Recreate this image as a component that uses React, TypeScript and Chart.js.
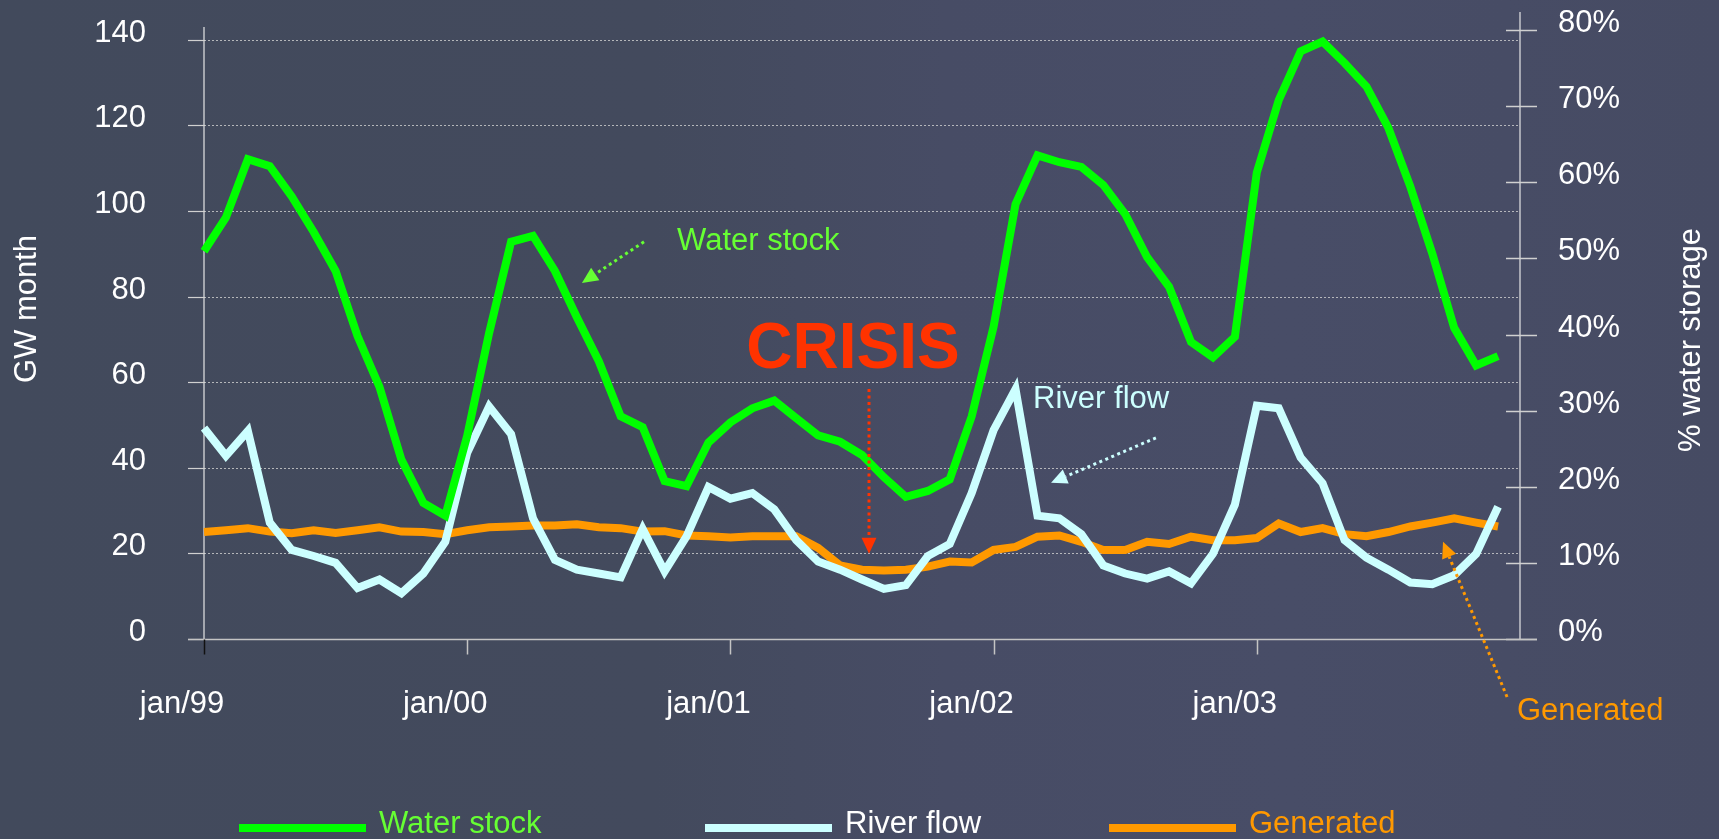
import React, { useEffect, useRef } from 'react';
import { Chart, registerables } from 'chart.js';

Chart.register(...registerables);

const FONT = '"Liberation Sans", Arial, Helvetica, sans-serif';

const YEARS = ['99', '00', '01', '02', '03', '04'];
const MONTH_NAMES = ['jan', 'feb', 'mar', 'apr', 'may', 'jun', 'jul', 'aug', 'sep', 'oct', 'nov', 'dec'];
// 61 monthly category slots: jan/99 ... jan/04 (last slot is the axis end)
const CATEGORIES: string[] = [];
YEARS.forEach((yy, yi) => {
  MONTH_NAMES.forEach((m, mi) => {
    if (yi < YEARS.length - 1 || mi === 0) CATEGORIES.push(`${m}/${yy}`);
  });
});
const X_TICK_LABELS = ['jan/99', 'jan/00', 'jan/01', 'jan/02', 'jan/03'];

const LEFT_TICKS = [0, 20, 40, 60, 80, 100, 120, 140];
const RIGHT_TICKS = [0, 10, 20, 30, 40, 50, 60, 70, 80];

const WATER_STOCK = [
  90.6, 98.5, 112.1, 110.5, 103.4, 95.1, 86.0, 70.8, 58.9, 41.9, 31.8, 28.8,
  47.5, 71.5, 92.8, 94.2, 86.0, 75.2, 64.9, 52.0, 49.5, 36.9, 35.7, 45.9,
  50.6, 53.9, 55.7, 51.6, 47.6, 46.1, 43.0, 37.8, 33.2, 34.6, 37.3, 52.0,
  73.0, 101.6, 113.0, 111.4, 110.3, 106.1, 99.3, 89.2, 82.3, 69.4, 65.8, 70.6,
  109.0, 125.9, 137.3, 139.6, 134.6, 129.1, 119.4, 105.7, 90.1, 72.7, 63.9, 66.1,
];
const RIVER_FLOW = [
  49.3, 42.8, 48.6, 27.2, 20.8, 19.4, 17.8, 11.9, 13.9, 10.7, 15.3, 22.7,
  43.5, 54.3, 47.9, 28.2, 18.5, 16.2, 15.3, 14.4, 25.7, 15.8, 24.0, 35.5,
  32.8, 34.1, 30.3, 23.1, 18.1, 16.2, 13.9, 11.7, 12.6, 19.4, 22.2, 34.1,
  48.8, 58.4, 28.8, 28.2, 24.5, 17.2, 15.3, 14.1, 15.8, 13.0, 19.9, 31.4,
  54.5, 53.9, 42.4, 36.4, 23.1, 19.0, 16.2, 13.2, 12.8, 14.9, 19.9, 30.9,
];
const GENERATED = [
  25.0, 25.4, 25.9, 25.1, 24.7, 25.4, 24.8, 25.4, 26.1, 25.1, 25.0, 24.5,
  25.4, 26.1, 26.3, 26.5, 26.5, 26.8, 26.1, 25.9, 25.1, 25.2, 24.2, 24.0,
  23.7, 24.0, 24.0, 24.0, 21.3, 17.2, 16.2, 16.0, 16.2, 16.9, 18.1, 17.9,
  20.8, 21.5, 23.9, 24.2, 22.7, 20.8, 20.8, 22.7, 22.2, 23.9, 23.1, 23.1,
  23.6, 27.0, 25.0, 25.9, 24.5, 24.0, 25.0, 26.3, 27.2, 28.2, 27.2, 26.3,
];

const SERIES_LABELS = ['Water stock', 'River flow', 'Generated'];
const SERIES_COLORS = ['#00ff00', '#ccffff', '#ff9900'];
const LEGEND_TEXT_COLORS = ['#66ff33', '#ffffff', '#ff9900'];

// annotation anchors in data units: [xIndex, value]
const ANNOT_TEXTS = [
  { text: 'Water stock', at: [21.57, 90.9], color: '#66ff33', font: `31px ${FONT}`, align: 'left' },
  { text: 'CRISIS', at: [29.59, 63.3], color: '#ff3300', font: `bold 64px ${FONT}`, align: 'center' },
  { text: 'River flow', at: [37.8, 54.0], color: '#ccffff', font: `31px ${FONT}`, align: 'left' },
  { text: 'Generated', at: [59.86, -18.9], color: '#ff9900', font: `31px ${FONT}`, align: 'left' },
];
const ANNOT_ARROWS = [
  { from: [20.06, 92.8], to: [17.23, 83.2], color: '#66ff33' },
  { from: [30.32, 58.4], to: [30.32, 19.9], color: '#ff3300' },
  { from: [43.4, 47.0], to: [38.62, 36.5], color: '#ccffff' },
  { from: [59.41, -13.55], to: [56.49, 22.7], color: '#ff9900' },
];

function drawArrow(ctx: CanvasRenderingContext2D, x0: number, y0: number, x1: number, y1: number, color: string) {
  const headLen = 16;
  const headHalf = 7.5;
  const dx = x1 - x0, dy = y1 - y0;
  const L = Math.hypot(dx, dy);
  const ux = dx / L, uy = dy / L;
  const bx = x1 - ux * headLen, by = y1 - uy * headLen;
  ctx.save();
  ctx.strokeStyle = color;
  ctx.lineWidth = 3;
  ctx.setLineDash([3, 3.5]);
  ctx.beginPath();
  ctx.moveTo(x0, y0);
  ctx.lineTo(bx, by);
  ctx.stroke();
  ctx.setLineDash([]);
  ctx.fillStyle = color;
  ctx.beginPath();
  ctx.moveTo(x1, y1);
  ctx.lineTo(bx - uy * headHalf, by + ux * headHalf);
  ctx.lineTo(bx + uy * headHalf, by - ux * headHalf);
  ctx.closePath();
  ctx.fill();
  ctx.restore();
}

const decorPlugin = {
  id: 'decor',
  beforeDatasetsDraw(chart: any) {
    const { ctx, chartArea: a, scales } = chart;
    const y = scales.y, y1 = scales.y1, x = scales.x;
    ctx.save();
    // dotted horizontal grid lines
    ctx.strokeStyle = 'rgba(210,210,210,0.8)';
    ctx.lineWidth = 1;
    ctx.setLineDash([2, 2]);
    LEFT_TICKS.forEach((v) => {
      if (v === 0) return;
      const py = Math.round(y.getPixelForValue(v)) + 0.5;
      ctx.beginPath();
      ctx.moveTo(a.left, py);
      ctx.lineTo(a.right, py);
      ctx.stroke();
    });
    ctx.setLineDash([]);
    // left axis line + ticks
    ctx.strokeStyle = '#e6e6e6';
    ctx.lineWidth = 1.2;
    ctx.beginPath();
    ctx.moveTo(a.left, a.top - 3);
    ctx.lineTo(a.left, a.bottom);
    ctx.stroke();
    ctx.strokeStyle = '#d0d0d0';
    LEFT_TICKS.forEach((v) => {
      const py = Math.round(y.getPixelForValue(v)) + 0.5;
      ctx.beginPath();
      ctx.moveTo(a.left - 16, py);
      ctx.lineTo(a.left, py);
      ctx.stroke();
    });
    // right axis line + crossing ticks
    ctx.strokeStyle = '#e6e6e6';
    ctx.beginPath();
    ctx.moveTo(a.right, a.top - 18);
    ctx.lineTo(a.right, a.bottom);
    ctx.stroke();
    ctx.strokeStyle = '#d0d0d0';
    ctx.lineWidth = 1.5;
    RIGHT_TICKS.forEach((v) => {
      const py = Math.round(y1.getPixelForValue(v)) + 0.5;
      ctx.beginPath();
      ctx.moveTo(a.right - 14, py);
      ctx.lineTo(a.right + 17, py);
      ctx.stroke();
    });
    // bottom axis line
    ctx.strokeStyle = '#c4c4c4';
    ctx.lineWidth = 1.5;
    const by = Math.round(a.bottom) + 0.5;
    ctx.beginPath();
    ctx.moveTo(a.left - 16, by);
    ctx.lineTo(a.right + 17, by);
    ctx.stroke();
    // x tick marks at january of each year
    X_TICK_LABELS.forEach((lab, k) => {
      const idx = CATEGORIES.indexOf(lab);
      const px = Math.round(x.getPixelForValue(idx)) + 0.5;
      ctx.strokeStyle = k === 0 ? '#111111' : '#c4c4c4';
      ctx.beginPath();
      ctx.moveTo(px, by);
      ctx.lineTo(px, by + 15);
      ctx.stroke();
    });
    ctx.restore();
  },
  afterDatasetsDraw(chart: any) {
    const { ctx, scales, data } = chart;
    const x = scales.x, y = scales.y;
    const px = (i: number) => x.getPixelForValue(0) + (x.getPixelForValue(1) - x.getPixelForValue(0)) * i;
    const py = (v: number) => y.getPixelForValue(v);
    ctx.save();
    // annotation arrows
    ANNOT_ARROWS.forEach((ar) => {
      drawArrow(ctx, px(ar.from[0]), py(ar.from[1]), px(ar.to[0]), py(ar.to[1]), ar.color);
    });
    // annotation texts
    ctx.textBaseline = 'alphabetic';
    ANNOT_TEXTS.forEach((t) => {
      ctx.font = t.font;
      ctx.fillStyle = t.color;
      ctx.textAlign = t.align as CanvasTextAlign;
      ctx.fillText(t.text, px(t.at[0]), py(t.at[1]));
    });
    // axis titles
    ctx.fillStyle = '#ffffff';
    ctx.font = `31px ${FONT}`;
    ctx.textAlign = 'center';
    ctx.textBaseline = 'middle';
    ctx.save();
    ctx.translate(27, 309);
    ctx.rotate(-Math.PI / 2);
    ctx.fillText('GW month', 0, 0);
    ctx.restore();
    ctx.save();
    ctx.translate(1691, 340);
    ctx.rotate(-Math.PI / 2);
    ctx.fillText('% water storage', 0, 0);
    ctx.restore();
    // legend
    const boxStarts = [239, 705, 1109];
    ctx.textAlign = 'left';
    ctx.textBaseline = 'alphabetic';
    data.datasets.forEach((ds: any, i: number) => {
      ctx.fillStyle = ds.borderColor;
      ctx.fillRect(boxStarts[i], 824, 127, 8);
      ctx.fillStyle = LEGEND_TEXT_COLORS[i];
      ctx.fillText(ds.label, boxStarts[i] + 140, 833);
    });
    ctx.restore();
  },
};

export default function App() {
  const canvasRef = useRef<HTMLCanvasElement | null>(null);

  useEffect(() => {
    if (!canvasRef.current) return;
    const seriesData = [WATER_STOCK, RIVER_FLOW, GENERATED];
    const chart = new Chart(canvasRef.current, {
      type: 'line',
      data: {
        labels: CATEGORIES,
        datasets: seriesData.map((d, i) => ({
          label: SERIES_LABELS[i],
          data: d,
          borderColor: SERIES_COLORS[i],
          backgroundColor: SERIES_COLORS[i],
          borderWidth: 8,
          pointRadius: 0,
          tension: 0,
          fill: false,
          yAxisID: 'y',
          order: i,
        })),
      },
      options: {
        animation: false,
        responsive: true,
        maintainAspectRatio: false,
        layout: { padding: { top: 30, left: 0, right: 0, bottom: 0 } },
        plugins: {
          legend: { display: false },
          tooltip: { enabled: false },
        },
        scales: {
          x: {
            type: 'category',
            offset: false,
            grid: { display: false, drawTicks: false },
            border: { display: false },
            ticks: {
              autoSkip: false,
              maxRotation: 0,
              minRotation: 0,
              padding: 47,
              labelOffset: -22,
              color: '#ffffff',
              font: { family: FONT, size: 31 },
              callback: (_v: any, idx: number) => {
                const lab = CATEGORIES[idx];
                return X_TICK_LABELS.includes(lab) ? lab : '';
              },
            },
            afterFit: (s: any) => { s.height = 200; },
          },
          y: {
            type: 'linear',
            position: 'left',
            min: 0,
            max: 142.3,
            grid: {
              display: true,
              drawOnChartArea: false,
              drawTicks: true,
              tickLength: 55,
              tickColor: 'rgba(0,0,0,0)',
            },
            border: { display: false },
            ticks: {
              stepSize: 20,
              includeBounds: false,
              padding: 3,
              labelOffset: -6.5,
              color: '#ffffff',
              font: { family: FONT, size: 31 },
            },
            afterFit: (s: any) => { s.width = 204; },
          },
          y1: {
            type: 'linear',
            position: 'right',
            min: 0,
            max: 80,
            grid: {
              display: true,
              drawOnChartArea: false,
              drawTicks: true,
              tickLength: 35,
              tickColor: 'rgba(0,0,0,0)',
            },
            border: { display: false },
            ticks: {
              stepSize: 10,
              padding: 3,
              labelOffset: -6.5,
              color: '#ffffff',
              font: { family: FONT, size: 31 },
              callback: (v: any) => `${v}%`,
            },
            afterFit: (s: any) => { s.width = 199; },
          },
        },
      },
      plugins: [decorPlugin],
    });
    return () => chart.destroy();
  }, []);

  return (
    <div
      style={{
        position: 'fixed',
        left: 0,
        top: 0,
        width: 1719,
        height: 839,
        background:
          'linear-gradient(90deg, #424a5c 0%, #434a5d 38%, #474c65 55%, #484d67 75%, #464b63 100%)',
      }}
    >
      <canvas ref={canvasRef} style={{ display: 'block' }} />
    </div>
  );
}
